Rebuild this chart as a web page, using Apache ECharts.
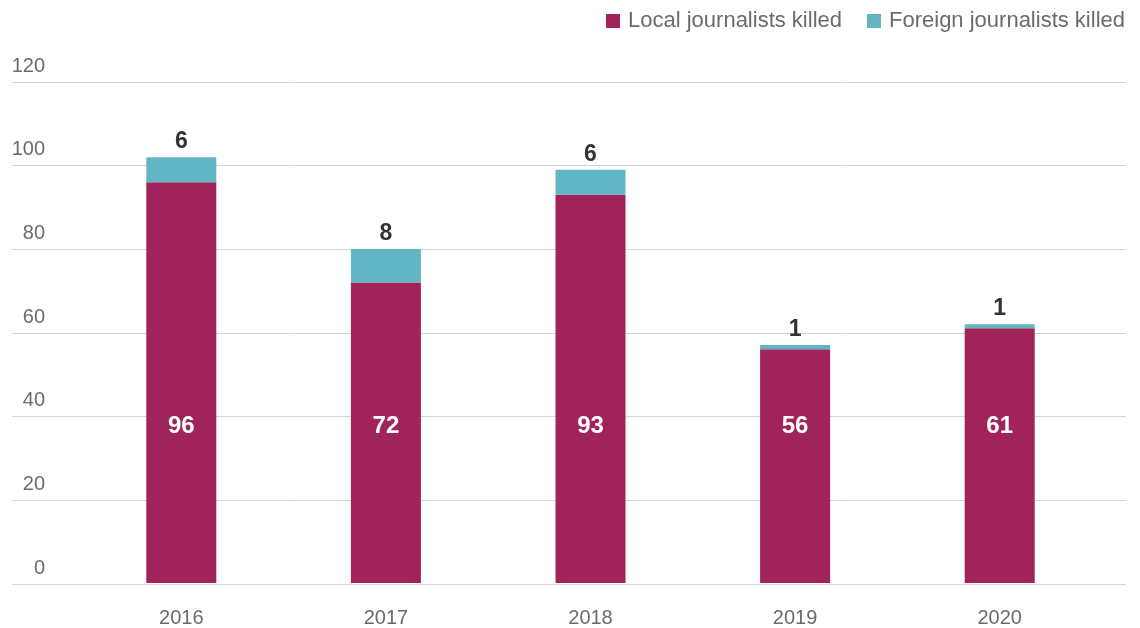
<!DOCTYPE html>
<html>
<head>
<meta charset="utf-8">
<script src="https://cdn.jsdelivr.net/npm/echarts@6/dist/echarts.min.js"></script>
<style>html,body{margin:0;padding:0;background:#fff}#c{width:1140px;height:628px}</style>
</head>
<body>
<div id="c"></div>
<script>
const years = ['2016', '2017', '2018', '2019', '2020'];
const localKilled = [96, 72, 93, 56, 61];
const foreignKilled = [6, 8, 6, 1, 1];
const yTicks = { min: 0, max: 120, interval: 20 };

const FONT = '"Liberation Sans", Arial, sans-serif';
const chart = echarts.init(document.getElementById('c'), null, { renderer: 'canvas' });
chart.setOption({
  animation: false,
  textStyle: { fontFamily: FONT },
  legend: {
    right: 10, top: 5,
    itemWidth: 14, itemHeight: 14, itemGap: 25,
    icon: 'rect',
    textStyle: { fontFamily: FONT, fontSize: 22, color: '#6b6b6b', padding: [0, 0, 0, 3] },
    data: ['Local journalists killed', 'Foreign journalists killed']
  },
  grid: [
    { left: 12, right: 14, top: 82, bottom: 44 },
    { left: 79, right: 38, top: 82, bottom: 44 }
  ],
  xAxis: [
    { type: 'value', gridIndex: 0, show: false, min: 0, max: 1 },
    {
      type: 'category', gridIndex: 1, data: years,
      axisLine: { show: false }, axisTick: { show: false },
      axisLabel: { fontFamily: FONT, fontSize: 20, color: '#6b6b6b', margin: 25 }
    }
  ],
  yAxis: [
    {
      type: 'value', gridIndex: 0, min: yTicks.min, max: yTicks.max, interval: yTicks.interval,
      axisLine: { show: false }, axisTick: { show: false },
      splitLine: { lineStyle: { color: '#d4d4d4', width: 1 } },
      axisLabel: {
        fontFamily: FONT, fontSize: 20, color: '#6b6b6b', margin: -33,
        align: 'right', verticalAlign: 'bottom', lineHeight: 20, padding: [0, 0, 6, 0]
      }
    },
    {
      type: 'value', gridIndex: 1, min: yTicks.min, max: yTicks.max, interval: yTicks.interval,
      show: false, splitLine: { show: false }
    }
  ],
  series: [
    {
      name: 'Local journalists killed', type: 'bar', stack: 'total',
      xAxisIndex: 1, yAxisIndex: 1, barWidth: 70,
      itemStyle: { color: '#a0245a' },
      label: {
        show: true, position: 'insideBottom', distance: 145,
        fontFamily: FONT, fontSize: 24, fontWeight: 'bold', color: '#ffffff'
      },
      data: localKilled
    },
    {
      name: 'Foreign journalists killed', type: 'bar', stack: 'total',
      xAxisIndex: 1, yAxisIndex: 1, barWidth: 70,
      itemStyle: { color: '#62b5c3' },
      label: {
        show: true, position: 'top', distance: 4,
        fontFamily: FONT, fontSize: 23, fontWeight: 'bold', color: '#333333'
      },
      data: foreignKilled
    }
  ]
});
</script>
</body>
</html>
